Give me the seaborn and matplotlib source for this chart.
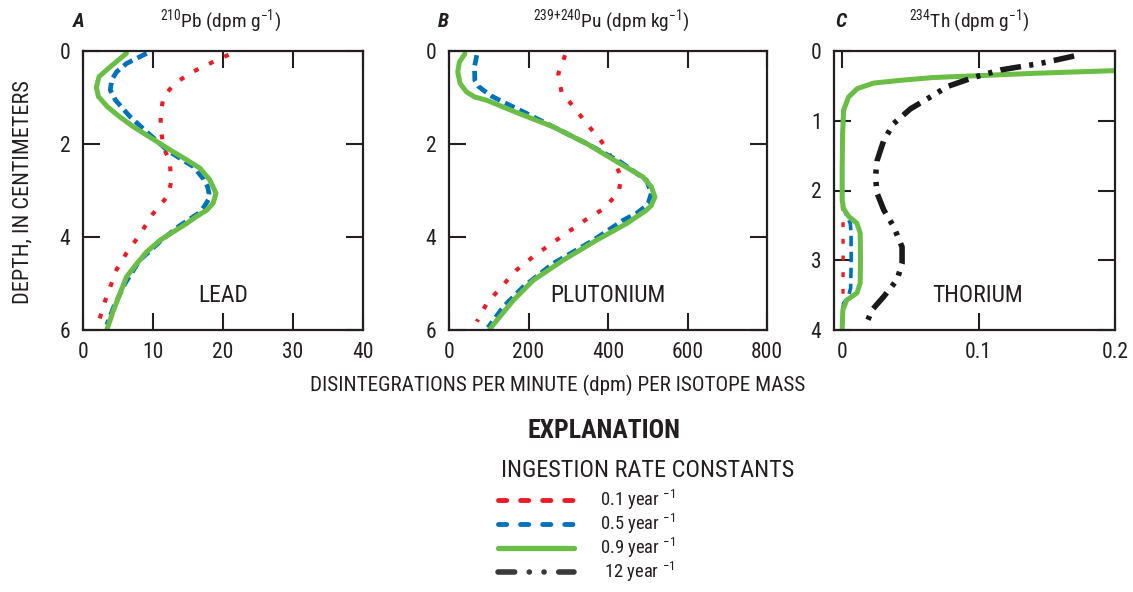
import numpy as np
import pandas as pd
import seaborn as sns
import matplotlib.pyplot as plt
from matplotlib.lines import Line2D

# ingestion rate constants
rate_labels = ['0.1 year $^{-1}$', '0.5 year $^{-1}$', '0.9 year $^{-1}$', ' 12 year $^{-1}$']
rate_colors = ['#ED1C24', '#0072BC', '#6ABD45', '#1A1A1A']

# panel A, 210Pb (dpm/g) vs depth (cm)
pb_red_depth = [0.08, 0.27, 0.46, 0.70, 0.98, 1.35, 1.70, 2.10, 2.39, 2.80, 3.10, 3.50, 3.95, 4.35, 4.70, 5.07, 5.40, 5.80]
pb_red = [20.8, 18.1, 15.5, 13.1, 11.5, 11.1, 11.1, 11.6, 12.4, 12.6, 12.2, 10.0, 8.1, 6.2, 4.8, 3.9, 3.1, 2.3]
pb_blue_depth = [0.05, 0.27, 0.45, 0.62, 0.84, 1.05, 1.41, 1.74, 2.13, 2.49, 2.75, 2.92, 3.06, 3.20, 3.35, 3.49, 3.78, 4.07, 4.50, 5.00, 5.50, 5.89]
pb_blue = [9.1, 6.2, 4.8, 4.1, 3.9, 4.6, 6.7, 9.1, 12.0, 15.8, 17.2, 17.8, 18.0, 17.9, 17.3, 16.5, 13.6, 11.2, 8.1, 6.0, 4.4, 3.4]
pb_green_depth = [0.05, 0.34, 0.55, 0.78, 0.98, 1.20, 1.41, 1.63, 1.99, 2.17, 2.34, 2.52, 2.77, 3.06, 3.27, 3.42, 3.56, 3.71, 3.89, 4.07, 4.32, 4.57, 4.86, 5.21, 5.60, 6.0]
pb_green = [6.2, 3.9, 2.3, 1.9, 2.2, 3.5, 5.2, 7.2, 11.0, 12.9, 14.8, 16.7, 18.1, 19.0, 18.6, 17.7, 16.2, 14.8, 12.9, 11.0, 9.1, 7.7, 6.2, 5.3, 4.3, 3.4]

# panel B, 239+240Pu (dpm/kg)
pu_red_depth = [0.09, 0.49, 0.88, 1.24, 1.60, 1.95, 2.35, 2.71, 3.06, 3.42, 3.64, 3.89, 4.14, 4.42, 4.71, 5.07, 5.43, 5.82]
pu_red = [292, 275, 283, 317, 350, 384, 413, 434, 426, 384, 342, 300, 258, 212, 170, 132, 95, 70]
pu_blue_depth = [0.09, 0.34, 0.63, 0.76, 0.84, 0.97, 1.10, 1.27, 1.63, 1.99, 2.38, 2.78, 3.06, 3.28, 3.35, 3.49, 3.64, 4.07, 4.57, 5.07, 5.50, 5.95]
pu_blue = [70, 64, 65, 74, 86, 107, 137, 178, 262, 346, 430, 497, 509, 501, 493, 472, 438, 363, 262, 187, 137, 98]
pu_green_depth = [0.06, 0.24, 0.45, 0.70, 0.88, 0.99, 1.06, 1.35, 1.63, 1.99, 2.42, 2.71, 2.92, 3.14, 3.32, 3.42, 3.71, 4.07, 4.50, 4.93, 5.36, 5.89, 6.0]
pu_green = [40, 26, 22, 28, 44, 65, 95, 178, 262, 346, 430, 488, 509, 518, 509, 497, 447, 371, 287, 212, 162, 111, 102]

# panel C, 234Th (dpm/g)
th_top_depth = [0.28, 0.32, 0.36, 0.38, 0.42, 0.46, 0.54, 0.66, 0.85, 1.20, 1.70]
th_top = [0.202, 0.141, 0.092, 0.067, 0.043, 0.023, 0.011, 0.0047, 0.001, 0.0003, 0.0]
th_red_depth = th_top_depth + [2.20, 2.35, 3.00, 3.65, 3.98]
th_red = th_top + [0.0, 0.0006, 0.0007, 0.0006, 0.0]
th_blue_depth = th_top_depth + [2.20, 2.35, 2.47, 2.60, 3.00, 3.40, 3.52, 3.62, 3.98]
th_blue = th_top + [0.0, 0.003, 0.0059, 0.0065, 0.0066, 0.0062, 0.0045, 0.001, 0.0]
th_green_depth = th_top_depth + [2.14, 2.26, 2.37, 2.47, 2.61, 3.00, 3.33, 3.47, 3.57, 3.71, 3.98]
th_green = th_top + [0.0, 0.001, 0.0047, 0.0108, 0.0132, 0.0134, 0.0132, 0.0108, 0.0034, 0.0005, 0.0]
th_black_depth = [0.072, 0.177, 0.272, 0.377, 0.51, 0.66, 0.83, 1.04, 1.28, 1.57, 1.80, 2.04, 2.28, 2.52, 2.81, 3.05, 3.28, 3.52, 3.71, 3.88]
th_black = [0.170, 0.1456, 0.116, 0.0966, 0.077, 0.0646, 0.050, 0.0378, 0.0305, 0.0256, 0.0244, 0.0256, 0.0305, 0.0378, 0.0439, 0.0439, 0.0402, 0.0305, 0.022, 0.0183]

sns.set_theme(style='ticks')
plt.rcParams['font.family'] = ['Roboto Condensed', 'DejaVu Sans']
plt.rcParams['mathtext.default'] = 'regular'
plt.rcParams['lines.scale_dashes'] = False
plt.rcParams['axes.edgecolor'] = '#231F20'
plt.rcParams['text.color'] = '#231F20'

fig = plt.figure(figsize=(11.33, 5.92), dpi=100)
axA = fig.add_axes([83/1133, 1-330/592, 280/1133, 279/592])
axB = fig.add_axes([449/1133, 1-330/592, 318/1133, 279/592])
axC = fig.add_axes([834/1133, 1-330/592, 281/1133, 279/592])

styles = [dict(color=rate_colors[0], lw=3.0, linestyle=(0, (3.5, 8.5))),
          dict(color=rate_colors[1], lw=3.4, linestyle=(0, (7.5, 4))),
          dict(color=rate_colors[2], lw=3.6, linestyle='-'),
          dict(color=rate_colors[3], lw=4.0, linestyle=(0, (15, 6, 3, 6, 3, 6)))]

def draw(ax, x, y, st):
    df = pd.DataFrame({'x': x, 'y': y})
    sns.lineplot(data=df, x='x', y='y', orient='y', estimator=None, errorbar=None,
                 ax=ax, **st)

draw(axA, pb_red, pb_red_depth, styles[0])
draw(axA, pb_blue, pb_blue_depth, styles[1])
draw(axA, pb_green, pb_green_depth, styles[2])
draw(axB, pu_red, pu_red_depth, styles[0])
draw(axB, pu_blue, pu_blue_depth, styles[1])
draw(axB, pu_green, pu_green_depth, styles[2])
draw(axC, th_red, th_red_depth, dict(styles[0], lw=2.4))
draw(axC, th_blue, th_blue_depth, dict(styles[1], lw=2.6))
draw(axC, th_green, th_green_depth, styles[2])
draw(axC, th_black, th_black_depth, styles[3])

axA.set_xlim(0, 40); axA.set_ylim(6, 0)
axA.set_xticks([0, 10, 20, 30, 40]); axA.set_yticks([0, 2, 4, 6])
axB.set_xlim(0, 800); axB.set_ylim(6, 0)
axB.set_xticks([0, 200, 400, 600, 800]); axB.set_yticks([0, 2, 4, 6])
axC.set_xlim(-0.006, 0.2); axC.set_ylim(4, 0)
axC.set_xticks([0, 0.1, 0.2], ['0', '0.1', '0.2']); axC.set_yticks([0, 1, 2, 3, 4])

names = ['LEAD', 'PLUTONIUM', 'THORIUM']
letters = ['A', 'B', 'C']
letter_x = [73, 438, 835]
title_x = [221, 611, 969]
titles = ['$^{210}$Pb (dpm g$^{-1}$)', '$^{239{+}240}$Pu (dpm kg$^{-1}$)', '$^{234}$Th (dpm g$^{-1}$)']
for ax, nm, let, lx, tx, tt in zip([axA, axB, axC], names, letters, letter_x, title_x, titles):
    ax.set_xlabel(''); ax.set_ylabel('')
    for s in ax.spines.values():
        s.set_linewidth(1.6)
        s.set_visible(True)
    ax.tick_params(direction='in', length=12, width=1.5, top=True, right=True,
                   labelsize=15.5, pad=9, colors='#231F20')
    ax.text(0.5 if nm != 'THORIUM' else 0.51, 0.125, nm, transform=ax.transAxes,
            ha='center', va='center', fontsize=17)
    fig.text(lx/1133, 1-27/592, let, fontsize=14.5, fontweight='bold', style='italic',
             ha='left', va='baseline')
    fig.text(tx/1133, 1-27/592, tt, fontsize=14, ha='center', va='baseline')

fig.text(23/1133, 1-192/592, 'DEPTH, IN CENTIMETERS', rotation=90, fontsize=16, ha='center', va='center')
fig.text(558/1133, 1-391/592, 'DISINTEGRATIONS PER MINUTE (dpm) PER ISOTOPE MASS',
         fontsize=15.2, ha='center', va='baseline')
fig.text(604/1133, 1-438/592, 'EXPLANATION', fontsize=18.5, fontweight='bold', ha='center', va='baseline')
fig.text(648/1133, 1-477/592, 'INGESTION RATE CONSTANTS', fontsize=17.5, ha='center', va='baseline')

handles = [Line2D([], [], color=rate_colors[0], lw=3.5, linestyle=(0, (5.9, 10)), dash_capstyle='round'),
           Line2D([], [], color=rate_colors[1], lw=3.5, linestyle=(0, (5.9, 10)), dash_capstyle='round'),
           Line2D([], [], color=rate_colors[2], lw=3.8, solid_capstyle='round'),
           Line2D([], [], color='#3A3A3A', lw=4.0, linestyle=(0, (12, 10.5, 0.1, 10.5, 0.1, 10.5)), dash_capstyle='round')]
fig.legend(handles, rate_labels, loc='upper left', bbox_to_anchor=(498/1133, 1-488/592),
           frameon=False, fontsize=13.3, handlelength=4.1, handletextpad=1.4,
           labelspacing=0.0, borderpad=0, borderaxespad=0)

plt.savefig('out.png', dpi=100)
